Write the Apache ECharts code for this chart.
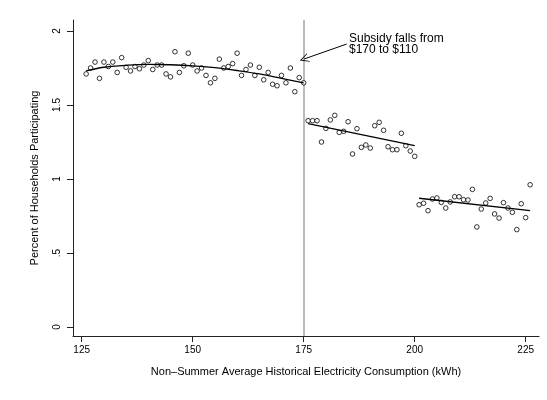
<!DOCTYPE html>
<html>
<head>
<meta charset="utf-8">
<script src="https://cdn.jsdelivr.net/npm/echarts@6/dist/echarts.min.js"></script>
<style>
  html, body { margin: 0; padding: 0; background: #fff; }
  #chart { width: 547px; height: 400px; }
</style>
</head>
<body>
<div id="chart"></div>
<script>
// Binned participation rates by non-summer consumption (kWh), three subsidy tiers
const consumptionLow = [126,127,128,129,130,131,132,133,134,135,136,137,138,139,140,141,142,143,144,145,
  146,147,148,149,150,151,152,153,154,155,156,157,158,159,160,161,162,163,164,165,
  166,167,168,169,170,171,172,173,174,175];
const participationLow = [1.71,1.75,1.79,1.68,1.79,1.76,1.79,1.72,1.82,1.755,1.73,1.76,1.745,1.77,1.80,1.74,1.77,1.77,1.71,1.69,
  1.86,1.72,1.765,1.85,1.77,1.73,1.75,1.70,1.65,1.68,1.81,1.75,1.76,1.78,1.85,1.70,1.74,1.77,1.70,1.755,
  1.67,1.72,1.64,1.63,1.70,1.65,1.75,1.59,1.685,1.65];

const consumptionMid = [176,177,178,179,180,181,182,183,184,185,186,187,188,189,190,191,192,193,194,195,
  196,197,198,199,200];
const participationMid = [1.394,1.394,1.394,1.25,1.342,1.399,1.43,1.315,1.322,1.387,1.169,1.34,1.214,1.23,1.209,1.36,1.383,1.329,1.218,1.198,
  1.198,1.309,1.225,1.189,1.153];

const consumptionHigh = [201,202,203,204,205,206,207,208,209,210,211,212,213,214,215,216,217,218,219,220,
  221,222,223,224,225,226];
const participationHigh = [0.826,0.836,0.786,0.865,0.872,0.842,0.804,0.845,0.880,0.880,0.860,0.858,0.930,0.676,0.797,0.838,0.869,0.764,0.736,0.840,
  0.804,0.775,0.658,0.833,0.739,0.961];

// Fitted curves within each tier
const fitLowX = [126,130,135,140,145,150,155,160,165,170,175];
const fitLowY = [1.73,1.755,1.768,1.774,1.772,1.765,1.752,1.733,1.71,1.68,1.649];
const fitMidX = [176,200];
const fitMidY = [1.374,1.225];
const fitHighX = [201,226];
const fitHighY = [0.870,0.787];

// Axis ticks
const xTicks = [125,150,175,200,225];
const yTicks = [0,0.5,1,1.5,2];

// Subsidy threshold and its note
const threshold = 175;
const noteText = 'Subsidy falls from\n$170 to $110';
const arrowFrom = [184.7, 1.912];
const arrowTo = [175.1, 1.811];
const noteAnchor = [185.2, 1.99];

const zip = (xs, ys) => xs.map((x, i) => [x, ys[i]]);
const FONT = '"Liberation Sans", Arial, Helvetica, sans-serif';

const chart = echarts.init(document.getElementById('chart'), null, { renderer: 'canvas' });

const scatterStyle = {
  type: 'scatter',
  symbol: 'circle',
  symbolSize: 4.6,
  itemStyle: { color: '#fff', borderColor: '#000', borderWidth: 1 },
  emphasis: { disabled: true },
  z: 3
};
const lineStyle = {
  type: 'line',
  showSymbol: false,
  lineStyle: { color: '#000', width: 1.3 },
  emphasis: { disabled: true },
  z: 4
};

chart.setOption({
  animation: false,
  backgroundColor: '#fff',
  grid: { left: 73, top: 20, width: 466, height: 316, containLabel: false },
  xAxis: {
    type: 'value',
    min: 123.04,
    max: 228.0,
    splitLine: { show: false },
    axisLine: { show: true, onZero: false, lineStyle: { color: '#222', width: 1 } },
    axisTick: { show: true, length: 6, customValues: xTicks, lineStyle: { color: '#222' } },
    axisLabel: { customValues: xTicks, margin: 9, color: '#000', fontFamily: FONT, fontSize: 10 },
    name: 'Non\u2013Summer Average Historical Electricity Consumption (kWh)',
    nameLocation: 'middle',
    nameGap: 30,
    nameTextStyle: { color: '#000', fontFamily: FONT, fontSize: 11 }
  },
  yAxis: {
    type: 'value',
    min: -0.0608,
    max: 2.0743,
    splitLine: { show: false },
    axisLine: { show: true, onZero: false, lineStyle: { color: '#222', width: 1 } },
    axisTick: { show: true, length: 6, customValues: yTicks, lineStyle: { color: '#222' } },
    axisLabel: {
      customValues: yTicks,
      rotate: 90,
      margin: 11,
      color: '#000',
      fontFamily: FONT,
      fontSize: 10,
      formatter: v => (v === 0.5 ? '.5' : String(v))
    },
    name: 'Percent of Households Participating',
    nameLocation: 'middle',
    nameGap: 33,
    nameRotate: 90,
    nameTextStyle: { color: '#000', fontFamily: FONT, fontSize: 11 }
  },
  series: [
    Object.assign({}, scatterStyle, {
      data: zip(consumptionLow, participationLow),
      markLine: {
        silent: true,
        symbol: ['none', 'none'],
        label: { show: false },
        lineStyle: { color: '#a9a9a9', width: 1.6, type: 'solid' },
        data: [{ xAxis: threshold }],
        z: 1
      }
    }),
    Object.assign({}, scatterStyle, { data: zip(consumptionMid, participationMid) }),
    Object.assign({}, scatterStyle, { data: zip(consumptionHigh, participationHigh) }),
    Object.assign({}, lineStyle, { data: zip(fitLowX, fitLowY), smooth: 0.4 }),
    Object.assign({}, lineStyle, { data: zip(fitMidX, fitMidY) }),
    Object.assign({}, lineStyle, {
      data: zip(fitHighX, fitHighY),
      markLine: {
        silent: true,
        symbol: ['none', 'path://M0,10L5,0L10,10L9,10L5,2.2L1,10Z'],
        symbolSize: [9, 9],
        label: { show: false },
        lineStyle: { color: '#000', width: 1, type: 'solid' },
        data: [[{ coord: arrowFrom }, { coord: arrowTo }]]
      }
    })
  ]
});

// Annotation text placed at its data position
const p = chart.convertToPixel({ gridIndex: 0 }, noteAnchor);
chart.setOption({
  graphic: [{
    type: 'text',
    left: p[0],
    top: p[1],
    style: {
      text: noteText,
      fill: '#000',
      font: '12px ' + FONT,
      lineHeight: 11.5
    },
    silent: true
  }]
});
</script>
</body>
</html>
